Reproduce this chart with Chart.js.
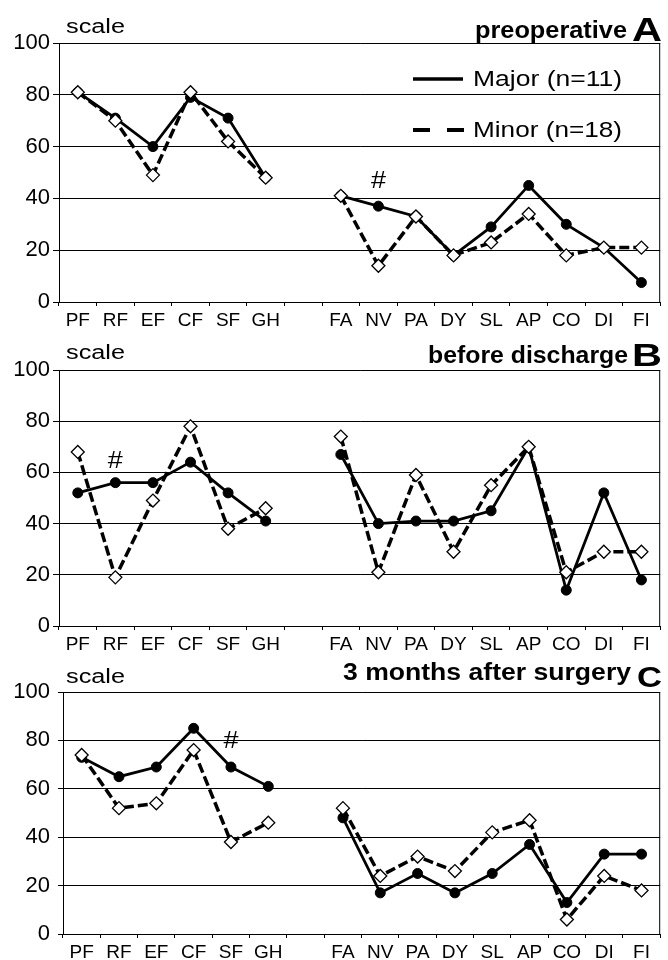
<!DOCTYPE html>
<html>
<head>
<meta charset="utf-8">
<script src="https://cdn.jsdelivr.net/npm/chart.js@4.4.1/dist/chart.umd.min.js"></script>
<style>
  html, body { margin: 0; padding: 0; background: #fff; }
  .panel { position: absolute; left: 0; width: 668px; }
</style>
</head>
<body>
<div class="panel" style="top:0;height:330px"><canvas id="chartA"></canvas></div>
<div class="panel" style="top:330px;height:325px"><canvas id="chartB"></canvas></div>
<div class="panel" style="top:655px;height:305px"><canvas id="chartC"></canvas></div>
<script>
// categories; the empty one is the gap between the two groups of scales
const categories = ['PF', 'RF', 'EF', 'CF', 'SF', 'GH', '', 'FA', 'NV', 'PA', 'DY', 'SL', 'AP', 'CO', 'DI', 'FI'];
const yTicks = [0, 20, 40, 60, 80, 100];
const majorLabel = 'Major (n=11)';
const minorLabel = 'Minor (n=18)';

// A: preoperative
const majorPreop = [81, 71, 60, 79, 71, 48, null, 41, 37, 33, 18, 29, 45, 30, 21, 7.5];
const minorPreop = [81, 70, 49, 81, 62, 48, null, 41, 14, 33, 18, 23, 34, 18, 21, 21];
// B: before discharge
const majorDischarge = [52, 56, 56, 64, 52, 41, null, 67, 40, 41, 41, 45, 70, 14, 52, 18];
const minorDischarge = [68, 19, 49, 78, 38, 46, null, 74, 21, 59, 29, 55, 70, 21, 29, 29];
// C: 3 months after surgery
const major3Months = [73, 65, 69, 85, 69, 61, null, 48, 17, 25, 17, 25, 37, 13, 33, 33];
const minor3Months = [74, 52, 54, 76, 38, 46, null, 52, 24, 32, 26, 42, 47, 6, 24, 18];

// "#" marks (significant difference)
const hashCats = ['NV', 'RF', 'SF'];
const hashVals = [47, 65, 80];

const FONT = "'Liberation Sans', Arial, Helvetica, sans-serif";
Chart.defaults.font.family = FONT;
Chart.defaults.color = '#000';

function stretchText(ctx, text, x, y, font, width, align) {
  ctx.save();
  ctx.font = font;
  const w = ctx.measureText(text).width;
  ctx.translate(align === 'right' ? x - width : x, y);
  ctx.scale(width / w, 1);
  ctx.textAlign = 'left';
  ctx.textBaseline = 'alphabetic';
  ctx.fillText(text, 0, 0);
  ctx.restore();
}

function decor(p) {
  return {
    id: 'decor',
    afterDraw(chart) {
      const { ctx, chartArea: a, scales: { x, y } } = chart;
      ctx.save();
      ctx.strokeStyle = '#000';
      ctx.lineWidth = 1;
      ctx.beginPath();
      ctx.moveTo(a.right - 0.5, a.top);
      ctx.lineTo(a.right - 0.5, a.bottom);
      ctx.stroke();
      ctx.fillStyle = '#000';
      stretchText(ctx, 'scale', 66, a.top - p.scaleOff, '20px ' + FONT, 59, 'left');
      stretchText(ctx, p.letter, p.letterRight, a.top - p.letterOff, 'bold ' + p.letterSize + 'px ' + FONT, p.letterW, 'right');
      stretchText(ctx, p.title, p.titleRight, a.top - p.titleOff, 'bold 23px ' + FONT, p.titleW, 'right');
      const hx = x.getPixelForValue(categories.indexOf(hashCats[p.i]));
      const hy = y.getPixelForValue(hashVals[p.i]);
      stretchText(ctx, '#', hx - 7.5, hy + 8, '23px ' + FONT, 15, 'left');

      if (p.legend) {
        ctx.lineWidth = 3.5;
        ctx.beginPath();
        ctx.moveTo(413, 79); ctx.lineTo(463, 79);
        ctx.stroke();
        ctx.lineWidth = 4;
        ctx.setLineDash([17, 17]);
        ctx.beginPath();
        ctx.moveTo(413, 130); ctx.lineTo(464, 130);
        ctx.stroke();
        ctx.setLineDash([]);
        const ds = chart.data.datasets;
        stretchText(ctx, ds[0].label, 473, 86, '22px ' + FONT, 149, 'left');
        stretchText(ctx, ds[1].label, 473, 137, '22px ' + FONT, 149, 'left');
      }
      ctx.restore();
    }
  };
}

function makeChart(id, major, minor, p) {
  new Chart(document.getElementById(id), {
    type: 'line',
    data: {
      labels: categories,
      datasets: [{
        label: majorLabel,
        data: major,
        borderColor: '#000',
        borderWidth: 2.75,
        pointStyle: 'circle',
        pointRadius: 5,
        pointBackgroundColor: '#000',
        pointBorderColor: '#000',
        pointBorderWidth: 1,
        spanGaps: false,
        order: 1
      }, {
        label: minorLabel,
        data: minor,
        borderColor: '#000',
        borderWidth: 3.5,
        borderDash: [10, 4],
        pointStyle: 'rectRot',
        pointRadius: 6.5,
        pointBackgroundColor: '#fff',
        pointBorderColor: '#000',
        pointBorderWidth: 1.3,
        spanGaps: false,
        order: 0
      }]
    },
    options: {
      responsive: true,
      maintainAspectRatio: false,
      animation: false,
      layout: { padding: { top: p.top, right: p.right, left: 0, bottom: 0 } },
      plugins: { legend: { display: false }, tooltip: { enabled: false } },
      scales: {
        x: {
          offset: true,
          grid: { offset: true, drawOnChartArea: false, drawTicks: true, tickLength: 4, color: '#000' },
          border: { color: '#000', width: 1 },
          ticks: { font: { size: 19 }, color: '#000', padding: 3, maxRotation: 0, autoSkip: false },
          afterFit: s => { s.height = p.xHeight; }
        },
        y: {
          min: 0,
          max: 100,
          afterBuildTicks: s => { s.ticks = yTicks.map(v => ({ value: v })); },
          grid: { color: '#000', lineWidth: 1, tickLength: p.tickLen },
          border: { color: '#000', width: 1 },
          ticks: { font: { size: 22 }, color: '#000', padding: p.yPad },
          afterFit: s => { s.width = p.yWidth; }
        }
      }
    },
    plugins: [decor(p)]
  });
}

makeChart('chartA', majorPreop, minorPreop, {
  i: 0, top: 43, right: 1, xHeight: 28, yWidth: 59, tickLen: 6, yPad: 3,
  title: 'preoperative', titleRight: 627, titleW: 152, titleOff: 5.5,
  letter: 'A', letterRight: 662, letterW: 30, letterSize: 33, letterOff: 2.5, scaleOff: 10, legend: true
});
makeChart('chartB', majorDischarge, minorDischarge, {
  i: 1, top: 40, right: 2, xHeight: 29, yWidth: 59, tickLen: 6, yPad: 3,
  title: 'before discharge', titleRight: 628, titleW: 200, titleOff: 7,
  letter: 'B', letterRight: 662, letterW: 30, letterSize: 31, letterOff: 4.5, scaleOff: 11
});
makeChart('chartC', major3Months, minor3Months, {
  i: 2, top: 37, right: 2, xHeight: 26, yWidth: 63, tickLen: 5, yPad: 8,
  title: '3 months after surgery', titleRight: 631, titleW: 288, titleOff: 12,
  letter: 'C', letterRight: 662, letterW: 25, letterSize: 29, letterOff: 5, scaleOff: 9
});
</script>
</body>
</html>
